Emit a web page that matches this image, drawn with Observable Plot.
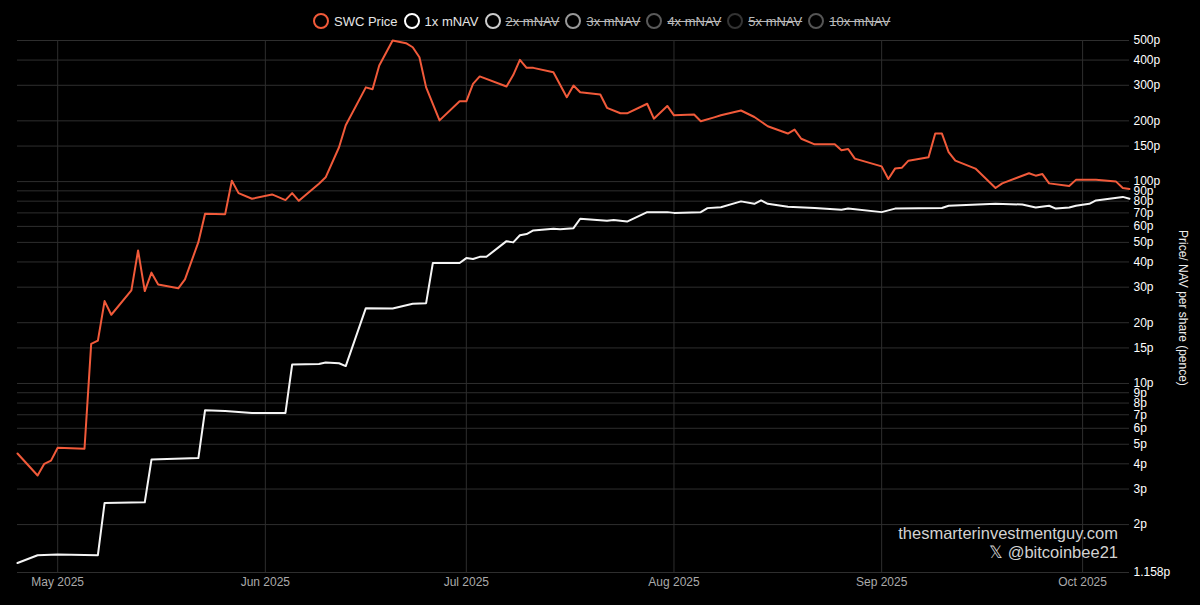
<!DOCTYPE html>
<html>
<head>
<meta charset="utf-8">
<script src="https://cdn.jsdelivr.net/npm/d3@7"></script>
<script src="https://cdn.jsdelivr.net/npm/@observablehq/plot@0.6"></script>
<style>
  html, body { margin: 0; padding: 0; background: #000; }
  body { width: 1200px; height: 605px; position: relative; overflow: hidden; font-family: "Liberation Sans", Arial, Helvetica, sans-serif; }
  #chart { position: absolute; left: 0; top: 0; }
  #legend { position: absolute; top: 13px; left: 313px; display: flex; align-items: center; font-size: 13px; white-space: nowrap; }
  .item { display: flex; align-items: center; margin-right: 6px; }
  .dot { width: 12px; height: 12px; border: 2px solid; border-radius: 50%; margin-right: 5px; box-sizing: content-box; }
  .off { text-decoration: line-through; color: #bbb; }
  #ylabel { position: absolute; left: 1176px; top: 230px; writing-mode: vertical-rl; color: #eee; font-size: 12px; }
  #mark { position: absolute; right: 82px; top: 524px; text-align: right; color: #d2d2d2; font-size: 16.5px; line-height: 19px; }
</style>
</head>
<body>
<div id="chart"></div>
<div id="legend"></div>
<div id="ylabel">Price/ NAV per share (pence)</div>
<div id="mark">thesmarterinvestmentguy.com<br>𝕏 @bitcoinbee21</div>
<script>
const priceDates = ["2025-04-25","2025-04-28","2025-04-29","2025-04-30","2025-05-01","2025-05-05","2025-05-06","2025-05-07","2025-05-08","2025-05-09","2025-05-12","2025-05-13","2025-05-14","2025-05-15","2025-05-16","2025-05-19","2025-05-20","2025-05-22","2025-05-23","2025-05-26","2025-05-27","2025-05-28","2025-05-30","2025-06-02","2025-06-04","2025-06-05","2025-06-06","2025-06-09","2025-06-10","2025-06-12","2025-06-13","2025-06-16","2025-06-17","2025-06-18","2025-06-20","2025-06-22","2025-06-23","2025-06-24","2025-06-25","2025-06-27","2025-06-30","2025-07-01","2025-07-02","2025-07-03","2025-07-07","2025-07-08","2025-07-09","2025-07-10","2025-07-11","2025-07-14","2025-07-16","2025-07-17","2025-07-18","2025-07-21","2025-07-22","2025-07-24","2025-07-25","2025-07-28","2025-07-29","2025-07-31","2025-08-01","2025-08-04","2025-08-05","2025-08-07","2025-08-08","2025-08-11","2025-08-13","2025-08-15","2025-08-18","2025-08-19","2025-08-20","2025-08-22","2025-08-25","2025-08-26","2025-08-27","2025-08-28","2025-09-01","2025-09-02","2025-09-03","2025-09-04","2025-09-05","2025-09-08","2025-09-09","2025-09-10","2025-09-11","2025-09-12","2025-09-15","2025-09-18","2025-09-19","2025-09-23","2025-09-24","2025-09-25","2025-09-26","2025-09-29","2025-09-30","2025-10-03","2025-10-06","2025-10-07","2025-10-08"];
const priceValues = [4.5,3.5,4.0,4.15,4.8,4.75,15.7,16.3,25.6,21.9,28.9,45.6,28.7,35.4,30.9,29.6,32.8,50.1,69.3,69,101,87.7,82.2,86.4,81,87.7,80.3,97.6,105,148,190,293,287,376,500,485,463,413,293,201,250,250,305,332,296,337,401,366,366,348,262,299,277,270,232,218,218,243,205,237,213,215,199,208,213,225,209,188,173,181,163,153,153,143,145,130,119,103,116,117,127,132,173,173,140,127,116,93,98,110,107,109,98,95,102,102,100,93,92];

const navDates = ["2025-04-25","2025-04-28","2025-05-01","2025-05-07","2025-05-08","2025-05-14","2025-05-15","2025-05-22","2025-05-23","2025-05-26","2025-05-30","2025-06-04","2025-06-05","2025-06-09","2025-06-10","2025-06-12","2025-06-13","2025-06-16","2025-06-20","2025-06-23","2025-06-25","2025-06-26","2025-06-30","2025-07-01","2025-07-02","2025-07-03","2025-07-04","2025-07-07","2025-07-08","2025-07-09","2025-07-10","2025-07-11","2025-07-14","2025-07-15","2025-07-17","2025-07-18","2025-07-22","2025-07-23","2025-07-25","2025-07-28","2025-07-31","2025-08-01","2025-08-05","2025-08-06","2025-08-08","2025-08-11","2025-08-13","2025-08-14","2025-08-15","2025-08-18","2025-08-22","2025-08-26","2025-08-27","2025-09-01","2025-09-03","2025-09-10","2025-09-11","2025-09-18","2025-09-22","2025-09-24","2025-09-26","2025-09-27","2025-09-29","2025-09-30","2025-10-02","2025-10-03","2025-10-05","2025-10-07","2025-10-08"];
const navValues = [1.29,1.41,1.42,1.41,2.56,2.58,4.2,4.27,7.37,7.3,7.15,7.15,12.4,12.5,12.7,12.6,12.2,23.6,23.5,24.85,25,39.5,39.5,41.8,41.4,42.4,42.4,50.7,50,54.2,55,57.3,58.4,58,58.8,65.5,64,64.5,63.4,70.6,70.6,70,70.6,73.9,74.7,79.8,77.6,80.7,77.6,75,74,72.6,73.5,70.6,73.5,74,75.9,77.6,77,74.5,75.9,73.5,74.5,76,77.6,80.7,82.3,84,82.3];

const yTicks = [1.158,2,3,4,5,6,7,8,9,10,15,20,30,40,50,60,70,80,90,100,150,200,300,400,500];
const monthTicks = ["2025-05-01","2025-06-01","2025-07-01","2025-08-01","2025-09-01","2025-10-01"];
const xDomain = ["2025-04-25","2025-10-08"];

const legendItems = ["SWC Price","1x mNAV","2x mNAV","3x mNAV","4x mNAV","5x mNAV","10x mNAV"];
const legendColors = ["#f15a3a","#ffffff","#cccccc","#999999","#5a5a5a","#333333","#555555"];
const legendActive = [true,true,false,false,false,false,false];

const parse = d3.utcParse("%Y-%m-%d");
const price = priceDates.map((d, i) => ({date: parse(d), value: priceValues[i]}));
const nav = navDates.map((d, i) => ({date: parse(d), value: navValues[i]}));

const chart = Plot.plot({
  width: 1200,
  height: 605,
  marginLeft: 17,
  marginRight: 71,
  marginTop: 40,
  marginBottom: 33,
  style: {background: "#000", color: "#fff", fontFamily: "Liberation Sans, Arial, Helvetica, sans-serif", fontSize: "12px"},
  x: {type: "utc", domain: xDomain.map(parse)},
  y: {type: "log", domain: [1.158, 500], axis: null},
  marks: [
    Plot.gridY(yTicks, {stroke: "#2e2e2e", strokeOpacity: 1}),
    Plot.gridX(monthTicks.map(parse), {stroke: "#2e2e2e", strokeOpacity: 1}),
    Plot.text(yTicks, {y: d => d, frameAnchor: "right", textAnchor: "start", dx: 4, fill: "#fff", fontSize: 12,
      text: d => d + "p"}),
    Plot.axisX(monthTicks.map(parse), {anchor: "bottom", tickSize: 0, tickPadding: 5, label: null, fill: "#aaa", fontSize: 12,
      tickFormat: d3.utcFormat("%b %Y")}),
    Plot.line(nav, {x: "date", y: "value", stroke: "#f5f5f5", strokeWidth: 2}),
    Plot.line(price, {x: "date", y: "value", stroke: "#f15a3a", strokeWidth: 2})
  ]
});
document.getElementById("chart").append(chart);

const legend = document.getElementById("legend");
legendItems.forEach((name, i) => {
  const it = document.createElement("div");
  it.className = "item";
  const dot = document.createElement("span");
  dot.className = "dot";
  dot.style.borderColor = legendColors[i];
  const lab = document.createElement("span");
  lab.textContent = name;
  if (!legendActive[i]) lab.className = "off"; else lab.style.color = "#e6e6e6";
  it.append(dot, lab);
  legend.append(it);
});
</script>
</body>
</html>
